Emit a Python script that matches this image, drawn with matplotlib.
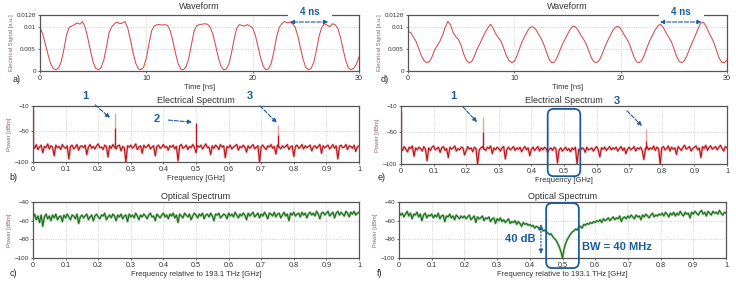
import matplotlib.pyplot as plt
import numpy as np
from matplotlib.patches import FancyBboxPatch

plt.rcParams['font.family'] = ['Liberation Sans', 'DejaVu Sans']

W, H = 736, 285
BLUE = '#1b5c9e'
RED_WAVE = '#d64a4c'
RED_SPEC = '#b8141c'
PINK = '#eba3a3'
GREEN = '#1d6b1d'
PALE_GREEN = '#8cc48c'

# waveforms (sampled every 0.25 ns)
t_ns = np.arange(0, 30.01, 0.25)
wave_a = [0.0099, 0.0085, 0.0062, 0.0038, 0.0017, 0.0006, 0.0003, 0.0007, 0.0022, 0.0050,
          0.0083, 0.0100, 0.0103, 0.0106, 0.0110, 0.0107, 0.0113, 0.0100, 0.0075, 0.0046,
          0.0020, 0.0006, 0.0003, 0.0008, 0.0025, 0.0055, 0.0088, 0.0101, 0.0108, 0.0112,
          0.0108, 0.0110, 0.0113, 0.0098, 0.0072, 0.0042, 0.0018, 0.0005, 0.0003, 0.0009,
          0.0030, 0.0062, 0.0092, 0.0103, 0.0106, 0.0106, 0.0105, 0.0106, 0.0104, 0.0092,
          0.0068, 0.0040, 0.0016, 0.0004, 0.0003, 0.0010, 0.0030, 0.0062, 0.0092, 0.0104,
          0.0106, 0.0107, 0.0108, 0.0107, 0.0100, 0.0085, 0.0060, 0.0033, 0.0012, 0.0003,
          0.0004, 0.0015, 0.0040, 0.0072, 0.0098, 0.0106, 0.0104, 0.0103, 0.0106, 0.0103,
          0.0098, 0.0082, 0.0056, 0.0030, 0.0010, 0.0003, 0.0005, 0.0018, 0.0045, 0.0078,
          0.0100, 0.0108, 0.0113, 0.0110, 0.0112, 0.0108, 0.0100, 0.0080, 0.0052, 0.0026,
          0.0008, 0.0003, 0.0006, 0.0020, 0.0048, 0.0080, 0.0100, 0.0108, 0.0105, 0.0101,
          0.0108, 0.0106, 0.0098, 0.0078, 0.0050, 0.0024, 0.0007, 0.0003, 0.0006, 0.0015,
          0.0032]
wave_d = [0.0090, 0.0088, 0.0078, 0.0068, 0.0052, 0.0035, 0.0024, 0.0019, 0.0021, 0.0032,
          0.0048, 0.0058, 0.0068, 0.0082, 0.0100, 0.0113, 0.0105, 0.0088, 0.0078, 0.0072,
          0.0058, 0.0038, 0.0024, 0.0019, 0.0022, 0.0034, 0.0050, 0.0062, 0.0075, 0.0088,
          0.0098, 0.0107, 0.0098, 0.0085, 0.0076, 0.0068, 0.0052, 0.0035, 0.0024, 0.0019,
          0.0022, 0.0035, 0.0052, 0.0068, 0.0080, 0.0092, 0.0100, 0.0101, 0.0096, 0.0085,
          0.0075, 0.0062, 0.0045, 0.0028, 0.0019, 0.0020, 0.0030, 0.0045, 0.0060, 0.0072,
          0.0084, 0.0095, 0.0102, 0.0101, 0.0093, 0.0082, 0.0073, 0.0062, 0.0046, 0.0030,
          0.0021, 0.0019, 0.0025, 0.0038, 0.0054, 0.0068, 0.0080, 0.0092, 0.0100, 0.0102,
          0.0097, 0.0086, 0.0076, 0.0066, 0.0050, 0.0032, 0.0021, 0.0019, 0.0025, 0.0038,
          0.0055, 0.0070, 0.0082, 0.0094, 0.0103, 0.0107, 0.0100, 0.0088, 0.0078, 0.0068,
          0.0052, 0.0034, 0.0022, 0.0019, 0.0024, 0.0036, 0.0052, 0.0066, 0.0080, 0.0095,
          0.0108, 0.0112, 0.0104, 0.0090, 0.0078, 0.0066, 0.0048, 0.0030, 0.0020, 0.0019,
          0.0025]

# spectra (sampled every 0.005 GHz)
freq = np.linspace(0, 1, 201)
elec_b = [-74, -78, -72, -80, -76, -73, -85, -75, -77, -71, -79, -74, -76, -90, -73, -77, -75, -80, -72, -76,
          -78, -74, -95, -75, -73, -79, -76, -72, -81, -75, -74, -77, -73, -88, -76, -72, -78, -75, -79, -74,
          -71, -77, -76, -80, -73, -75, -92, -74, -78, -72, -76, -79, -74, -73, -82, -75, -77, -100, -74, -76,
          -73, -78, -75, -71, -80, -76, -74, -86, -73, -77, -75, -72, -79, -76, -74, -90, -75, -73, -78, -76,
          -72, -77, -75, -81, -74, -76, -73, -79, -75, -98, -74, -72, -78, -76, -73, -80, -75, -77, -72, -76,
          -85, -74, -76, -73, -79, -75, -71, -77, -76, -88, -74, -78, -73, -75, -80, -72, -76, -74, -93, -75,
          -77, -73, -79, -76, -74, -72, -81, -75, -77, -73, -76, -84, -74, -78, -75, -72, -79, -76, -74, -100,
          -75, -73, -77, -80, -74, -76, -72, -78, -75, -87, -73, -76, -79, -74, -77, -75, -72, -80, -76, -74,
          -91, -75, -73, -78, -76, -72, -79, -74, -77, -75, -73, -82, -76, -74, -78, -75, -72, -86, -74, -77,
          -75, -73, -79, -76, -72, -78, -74, -95, -75, -73, -77, -76, -72, -80, -74, -75, -78, -73, -83, -76,
          -74]
elec_e = [-75, -79, -73, -77, -81, -74, -76, -72, -88, -75, -78, -74, -76, -80, -73, -77, -95, -75, -79, -74,
          -72, -78, -76, -74, -82, -75, -73, -79, -76, -90, -74, -77, -75, -72, -80, -76, -78, -74, -75, -86,
          -79, -73, -77, -75, -81, -74, -76, -100, -78, -75, -73, -77, -79, -74, -76, -72, -84, -75, -78, -74,
          -76, -80, -75, -73, -92, -77, -74, -78, -76, -73, -79, -75, -77, -74, -81, -76, -73, -78, -75, -87,
          -77, -74, -79, -76, -73, -80, -75, -78, -74, -76, -82, -77, -75, -79, -74, -76, -98, -78, -75, -80,
          -77, -74, -79, -76, -81, -75, -78, -74, -100, -77, -79, -75, -76, -82, -74, -78, -77, -75, -80, -76,
          -73, -78, -89, -75, -77, -74, -79, -76, -73, -78, -75, -77, -74, -80, -76, -73, -79, -75, -84, -77,
          -74, -78, -76, -73, -80, -75, -77, -74, -79, -93, -76, -73, -78, -75, -77, -72, -79, -74, -76, -100,
          -75, -73, -78, -76, -72, -80, -74, -77, -75, -85, -73, -76, -79, -74, -71, -77, -75, -73, -80, -76,
          -74, -72, -78, -75, -90, -73, -76, -71, -79, -74, -72, -77, -75, -73, -78, -74, -71, -76, -80, -73,
          -75]
opt_c = [-57, -53, -59, -55, -62, -54, -66, -56, -53, -58, -55, -60, -54, -57, -53, -59, -56, -55, -61, -54,
         -57, -53, -56, -59, -54, -55, -58, -53, -63, -56, -54, -57, -55, -53, -59, -56, -54, -60, -55, -53,
         -56, -58, -54, -55, -52, -59, -56, -54, -57, -53, -55, -60, -54, -56, -53, -58, -55, -54, -61, -53,
         -56, -54, -57, -52, -55, -59, -54, -56, -53, -55, -58, -54, -52, -56, -55, -60, -53, -55, -57, -54,
         -52, -56, -54, -58, -53, -55, -52, -57, -54, -62, -53, -55, -57, -52, -54, -56, -53, -59, -55, -52,
         -54, -57, -53, -55, -52, -58, -54, -53, -56, -52, -55, -60, -53, -54, -52, -57, -55, -53, -54, -58,
         -52, -55, -53, -56, -51, -54, -57, -53, -55, -52, -54, -59, -52, -55, -53, -51, -56, -54, -52, -57,
         -53, -55, -51, -54, -58, -52, -53, -55, -51, -56, -53, -52, -57, -54, -51, -55, -53, -60, -52, -54,
         -51, -55, -53, -52, -56, -51, -54, -52, -57, -53, -51, -54, -52, -55, -50, -53, -58, -52, -51, -54,
         -52, -50, -55, -53, -51, -57, -52, -50, -54, -51, -53, -55, -50, -52, -56, -51, -53, -50, -54, -52,
         -51]
opt_f = [-51, -54, -52, -56, -53, -50, -55, -52, -58, -53, -54, -51, -56, -53, -60, -54, -52, -57, -54, -55,
         -53, -57, -54, -56, -52, -58, -55, -54, -61, -55, -56, -53, -57, -55, -59, -54, -56, -58, -55, -57,
         -55, -58, -56, -54, -59, -57, -55, -62, -56, -58, -57, -55, -60, -57, -58, -56, -61, -58, -57, -63,
         -58, -60, -57, -61, -59, -62, -60, -58, -63, -61, -62, -60, -64, -61, -63, -66, -62, -64, -63, -65,
         -64, -66, -65, -68, -66, -67, -70, -68, -71, -70, -72, -73, -75, -74, -77, -79, -81, -84, -88, -93,
         -100, -90, -84, -80, -77, -74, -72, -71, -69, -70, -67, -66, -68, -64, -65, -63, -64, -62, -63, -61,
         -62, -60, -61, -59, -62, -58, -60, -59, -57, -60, -58, -56, -59, -57, -58, -55, -61, -57, -56, -58,
         -55, -57, -54, -56, -58, -54, -56, -55, -59, -54, -56, -53, -55, -57, -54, -52, -56, -54, -55, -53,
         -54, -52, -55, -51, -53, -56, -52, -54, -51, -55, -52, -54, -50, -53, -55, -51, -53, -52, -57, -51,
         -53, -50, -52, -54, -51, -49, -53, -51, -55, -50, -52, -54, -50, -52, -51, -53, -49, -52, -54, -51,
         -52]

# spectral tones: frequency, top of faint part, top of solid part
tone_f_b = [0.0, 0.25, 0.5, 0.75]
tone_top_b = [-16, -21, -38, -41]
tone_solid_b = [-16, -46, -38, -57]
tone_f_e = [0.0, 0.25, 0.75]
tone_top_e = [-17, -27, -46]
tone_solid_e = [-17, -51, -65]

spec_ticks = [round(0.1 * i, 1) for i in range(11)]
spec_labels = ['0', '0.1', '0.2', '0.3', '0.4', '0.5', '0.6', '0.7', '0.8', '0.9', '1']

fig = plt.figure(figsize=(W / 100, H / 100), dpi=100)


def px_axes(left, top, right, bottom):
    return fig.add_axes([left / W, 1 - bottom / H, (right - left) / W, (bottom - top) / H])


def style(ax, title, xlabel, ylabel, tpad):
    for s in ax.spines.values():
        s.set_color('#555555')
        s.set_linewidth(0.9)
    ax.grid(True, color='#c4c4c4', ls=':', lw=0.6)
    ax.set_axisbelow(True)
    ax.tick_params(axis='x', labelsize=5.2, length=1.5, width=0.5, pad=1.5, colors='#333333')
    ax.tick_params(axis='y', labelsize=4.5, length=1.5, width=0.5, pad=1.5, colors='#333333')
    ax.set_title(title, fontsize=6.5, pad=tpad, color='#333333')
    ax.set_xlabel(xlabel, fontsize=5.5, labelpad=1, color='#333333')
    ax.set_ylabel(ylabel, fontsize=4.2, labelpad=2, color='#8a6464')


def wave_panel(ax, y):
    ax.plot(t_ns, y, color=RED_WAVE, lw=0.75)
    ax.set_xlim(0, 30)
    ax.set_ylim(0, 0.0128)
    ax.set_xticks([0, 10, 20, 30])
    ax.set_yticks([0, 0.005, 0.01, 0.0128])
    ax.set_yticklabels(['0', '0.005', '0.01', '0.0128'])
    style(ax, 'Waveform', 'Time [ns]', 'Electrical Signal [a.u.]', 4)


def elec_panel(ax, noise, tf, ttop, tsolid):
    ax.plot(freq, noise, color=PINK, lw=1.8, alpha=0.8)
    ax.plot(freq, noise, color=RED_SPEC, lw=0.8)
    ax.vlines(tf, ttop, tsolid, color=PINK, lw=1.0)
    ax.vlines(tf, -76, tsolid, color=RED_SPEC, lw=1.0)
    ax.set_xlim(0, 1)
    ax.set_ylim(-100, -10)
    ax.set_xticks(spec_ticks)
    ax.set_xticklabels(spec_labels)
    ax.set_yticks([-10, -50, -100])
    style(ax, 'Electrical Spectrum', 'Frequency [GHz]', 'Power [dBm]', 2)


def opt_panel(ax, y):
    ax.plot(freq, y, color=PALE_GREEN, lw=1.8, alpha=0.8)
    ax.plot(freq, y, color=GREEN, lw=0.8)
    ax.set_xlim(0, 1)
    ax.set_ylim(-100, -40)
    ax.set_xticks(spec_ticks)
    ax.set_xticklabels(spec_labels)
    ax.set_yticks([-40, -60, -80, -100])
    style(ax, 'Optical Spectrum', 'Frequency relative to 193.1 THz [GHz]', 'Power [dBm]', 2)


def period_mark(ax, x0, x1, y, xt):
    ax.annotate('', xy=(x0, y), xytext=(x1, y),
                arrowprops=dict(arrowstyle='<|-|>', ls='--', color=BLUE, lw=0.8,
                                mutation_scale=6, shrinkA=0, shrinkB=0))
    ax.text(xt, 1.06, '    4 ns    ', transform=ax.get_xaxis_transform(), ha='center', va='center',
            fontsize=7, fontweight='bold', color=BLUE,
            bbox=dict(fc='white', ec='none', boxstyle='square,pad=0.15'), clip_on=False)


def num_mark(ax, label, xt, yt, xa, ya):
    ax.annotate(label, xy=(xa, ya), xytext=(xt, yt), ha='center', va='center',
                fontsize=8, fontweight='bold', color=BLUE, annotation_clip=False,
                arrowprops=dict(arrowstyle='-|>', ls='--', color=BLUE, lw=0.8,
                                mutation_scale=6, shrinkA=4, shrinkB=0))


def round_box(ax, x0, x1, y0, y1):
    tr = ax.get_xaxis_transform() + fig.transFigure.inverted()
    a, b = tr.transform((x0, y0))
    c, d = tr.transform((x1, y1))
    box = FancyBboxPatch((a, b), c - a, d - b, boxstyle=f'round,pad=0,rounding_size={6 / W}',
                         mutation_aspect=W / H, transform=fig.transFigure,
                         fill=False, ec=BLUE, lw=1.3)
    fig.add_artist(box)


ax_a = px_axes(40, 15, 359, 71)
wave_panel(ax_a, wave_a)
period_mark(ax_a, 23.5, 27.1, 0.0112, 25.4)

ax_d = px_axes(408, 15, 727, 71)
wave_panel(ax_d, wave_d)
period_mark(ax_d, 23.7, 27.6, 0.0112, 25.7)

ax_b = px_axes(33, 106, 359, 162)
elec_panel(ax_b, elec_b, tone_f_b, tone_top_b, tone_solid_b)
num_mark(ax_b, '1', 0.16, 6, 0.236, -29)
num_mark(ax_b, '2', 0.38, -31, 0.488, -36)
num_mark(ax_b, '3', 0.666, 6, 0.748, -37)

ax_e = px_axes(401, 106, 727, 164)
elec_panel(ax_e, elec_e, tone_f_e, tone_top_e, tone_solid_e)
num_mark(ax_e, '1', 0.16, 5, 0.233, -35)
num_mark(ax_e, '3', 0.663, -2, 0.739, -41)
round_box(ax_e, 0.45, 0.55, -0.21, 0.95)

ax_c = px_axes(33, 202, 359, 258)
opt_panel(ax_c, opt_c)

ax_f = px_axes(399, 202, 726, 258)
opt_panel(ax_f, opt_f)
round_box(ax_f, 0.45, 0.55, -0.18, 0.98)
ax_f.annotate('', xy=(0.434, -63.6), xytext=(0.434, -95.7),
              arrowprops=dict(arrowstyle='<|-|>', ls=':', color=BLUE, lw=0.9,
                              mutation_scale=6, shrinkA=0, shrinkB=0))
ax_f.text(0.37, -79.5, '40 dB', ha='center', va='center', fontsize=8,
          fontweight='bold', color=BLUE)
ax_f.text(0.667, -88.2, 'BW = 40 MHz', ha='center', va='center', fontsize=8,
          fontweight='bold', color=BLUE)

for lab, x, y in [('a)', 17, 80), ('b)', 13, 177), ('c)', 13, 273),
                  ('d)', 385, 80), ('e)', 382, 178), ('f)', 380, 274)]:
    fig.text(x / W, 1 - y / H, lab, fontsize=6.5, color='#222222', ha='center', va='center')

fig.savefig('out.png', dpi=100)
